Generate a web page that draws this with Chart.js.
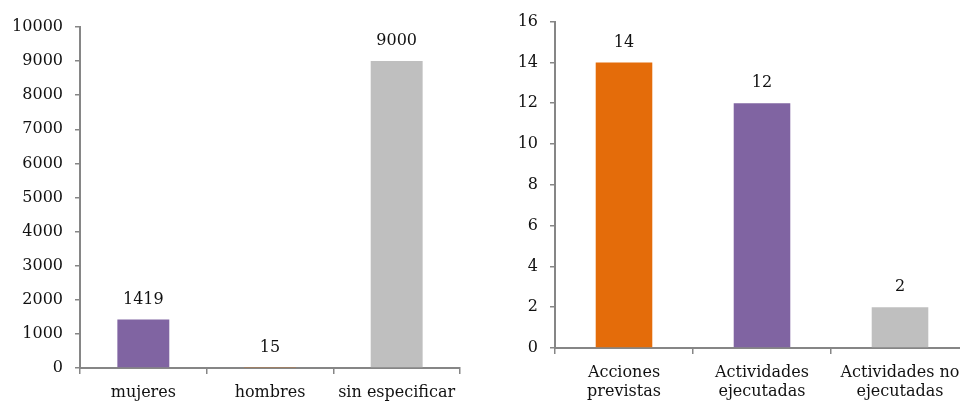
<!DOCTYPE html>
<html>
<head>
<meta charset="utf-8">
<script src="https://cdn.jsdelivr.net/npm/chart.js@4/dist/chart.umd.min.js"></script>
<style>
  html, body { margin: 0; padding: 0; background: #fff; overflow: hidden; width: 960px; height: 401px; }
  #c1 { position: absolute; left: 0; top: 0; }
  #c2 { position: absolute; left: 480px; top: 0; }
</style>
</head>
<body>
<canvas id="c1" width="480" height="401"></canvas>
<canvas id="c2" width="520" height="401"></canvas>
<script>
// ---- data ----
const leftCategories = ["mujeres", "hombres", "sin especificar"];
const leftValues = [1419, 15, 9000];
const leftColors = ["#8064A2", "#E46C0A", "#BFBFBF"];

const rightCategories = [["Acciones", "previstas"], ["Actividades", "ejecutadas"], ["Actividades no", "ejecutadas"]];
const rightValues = [14, 12, 2];
const rightColors = ["#E46C0A", "#8064A2", "#BFBFBF"];

const FONT = "'DejaVu Serif', serif";
const AXIS = "#868686";

const valueLabels = {
  id: "valueLabels",
  afterDatasetsDraw(chart) {
    const ctx = chart.ctx;
    ctx.save();
    ctx.font = "16px " + FONT;
    ctx.fillStyle = "#111";
    ctx.textAlign = "center";
    ctx.textBaseline = "middle";
    chart.data.datasets.forEach((ds, i) => {
      chart.getDatasetMeta(i).data.forEach((bar, j) => {
        ctx.fillText(String(ds.data[j]), bar.x, bar.y - 20);
      });
    });
    ctx.restore();
  }
};

function makeChart(id, labels, values, colors, yMax, yStep, yWidth, xHeight, pad) {
  return new Chart(document.getElementById(id), {
    type: "bar",
    data: {
      labels: labels,
      datasets: [{
        data: values,
        backgroundColor: colors,
        borderWidth: 0,
        inflateAmount: 0,
        categoryPercentage: 1,
        barPercentage: 0.41
      }]
    },
    options: {
      responsive: false,
      animation: false,
      events: [],
      layout: { padding: pad },
      plugins: { legend: { display: false }, tooltip: { enabled: false } },
      scales: {
        x: {
          grid: { display: true, drawOnChartArea: false, drawTicks: true, tickLength: 6, color: AXIS, lineWidth: 1.5, offset: true },
          border: { display: true, color: AXIS, width: 2 },
          ticks: { color: "#111", font: { family: FONT, size: 16, lineHeight: 1.2 }, padding: 9, maxRotation: 0, autoSkip: false },
          afterFit: (s) => { s.height = xHeight; }
        },
        y: {
          min: 0, max: yMax,
          grid: { display: true, drawOnChartArea: false, drawTicks: true, tickLength: 5, color: AXIS, lineWidth: 1.5 },
          border: { display: true, color: AXIS, width: 2 },
          ticks: { stepSize: yStep, color: "#111", font: { family: FONT, size: 16 }, padding: 12, callback: (v) => String(v) },
          afterFit: (s) => { s.width = yWidth; }
        }
      }
    },
    plugins: [valueLabels]
  });
}

makeChart("c1", leftCategories, leftValues, leftColors, 10000, 1000, 80, 33, { top: 27, right: 20, left: 0, bottom: 0 });
makeChart("c2", rightCategories, rightValues, rightColors, 16, 2, 75, 53, { top: 19, right: 31, left: 0, bottom: 0 });
</script>
</body>
</html>
